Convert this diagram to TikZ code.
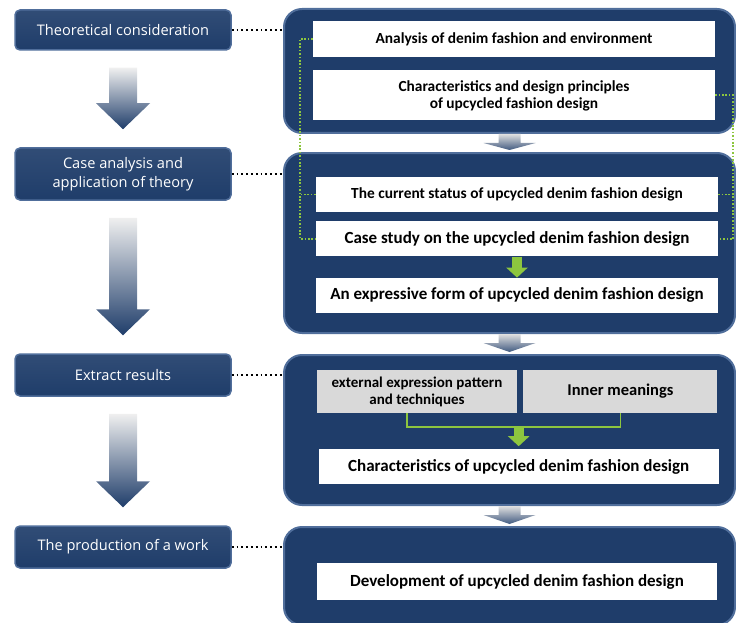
\documentclass[tikz,border=0pt]{standalone}
\usepackage{fontspec}
\setmainfont{Carlito}
\newfontfamily\stagefont{Open Sans}
\usepackage{tikz}
\usetikzlibrary{positioning, arrows.meta, calc}
\definecolor{navy}{RGB}{31,61,106}
\definecolor{bevel}{RGB}{80,110,155}
\definecolor{leaf}{RGB}{141,198,63}
\definecolor{shell}{RGB}{217,217,217}

\begin{document}
\begin{tikzpicture}[x=1pt, y=-1pt]
	% Define styles
	\tikzset{
		stage/.style={rectangle, rounded corners=5pt, draw=bevel, line width=1.5pt, top color=navy!92!white, bottom color=navy, text=white, font=\stagefont\fontsize{14.6}{18.5}\selectfont, align=center, minimum width=216pt, inner sep=0pt},
		panel/.style={rectangle, rounded corners=18pt, draw=bevel, line width=2pt, fill=navy, minimum width=451pt, inner sep=0pt},
		item/.style={rectangle, fill=white, font=\bfseries\fontsize{15.4}{17}\selectfont, align=center, minimum width=402pt, minimum height=35pt, inner sep=0pt},
		wide/.style={font=\bfseries\fontsize{17}{18}\selectfont},
		part/.style={item, fill=shell, font=\bfseries\fontsize{15}{17}\selectfont, minimum height=43pt},
		link/.style={draw, line width=1.8pt, dash pattern=on 1.8pt off 3pt},
		gdot/.style={draw=leaf, line width=1.8pt, dash pattern=on 1.6pt off 1.8pt},
		gline/.style={draw=leaf, line width=1.5pt},
		garrow/.style={draw=leaf, line width=10pt, -{Triangle[width=21pt, length=10pt]}},
		bigarrow/.style={top color=black!6, middle color=navy!62, bottom color=navy},
		gap/.style={top color=black!12, bottom color=navy!85}
	}
	\useasboundingbox (0,0) rectangle (736,623);
	
	% Nodes
	\node[stage, minimum height=40pt] (s1) at (123,30) {Theoretical consideration};
	\node[stage, minimum height=52pt] (s2) at (123,174) {Case analysis and\\application of theory};
	\node[stage, minimum height=42pt] (s3) at (123,375) {Extract results};
	\node[stage, minimum height=42pt] (s4) at (123,547) {The production of a work};
	
	\node[panel, minimum height=124pt] (p1) at (509.5,71) {};
	\node[panel, minimum height=180pt] (p2) at (509.5,243) {};
	\node[panel, minimum height=150pt] (p3) at (509.5,430) {};
	\node[panel, minimum height=98pt] (p4) at (509.5,576) {};
	
	\node[item, minimum height=36pt] (a1) at (514,39) {Analysis of denim fashion and environment};
	\node[item, minimum height=50pt, below=13pt of a1] (a2) {Characteristics and design principles\\of upcycled fashion design};
	
	\node[item] (c1) at (517,194.5) {The current status of upcycled denim fashion design};
	\node[item, wide, below=9pt of c1] (c2) {Case study on the upcycled denim fashion design};
	\node[item, wide, below=21pt of c2] (c3) {An expressive form of upcycled denim fashion design};
	
	\node[part, minimum width=200pt] (e1) at (417,391.5) {external expression pattern\\and techniques};
	\node[part, font=\bfseries\fontsize{16.5}{18}\selectfont, minimum width=194pt, right=6pt of e1] (e2) {Inner meanings};
	\node[item, wide, minimum width=400pt, below=36pt of $(e1.south)!0.5!(e2.south)$] (e3) {Characteristics of upcycled denim fashion design};
	
	\node[item, wide, minimum width=400pt, minimum height=37pt] (d1) at (517,581.5) {Development of upcycled denim fashion design};
	
	% Arrows
	\foreach \a/\b in {s1/s2, s2/s3, s3/s4}
		\shade[bigarrow] ($(\a.south)+(-14,17)$) -- ($(\a.south)+(14,17)$) -- ($(\b.north)+(14,-44)$) -- ($(\b.north)+(27,-44)$) -- ($(\b.north)+(0,-18)$) -- ($(\b.north)+(-27,-44)$) -- ($(\b.north)+(-14,-44)$) -- cycle;
	
	\foreach \a/\b in {p1/p2, p2/p3, p3/p4}
		\shade[gap] ($(\a.south)+(-11,0)$) -- ($(\a.south)+(11,0)$) -- ($(\a.south)+(11,9)$) -- ($(\a.south)+(26,9)$) -- ($(\b.north)+(0,-2)$) -- ($(\a.south)+(-26,9)$) -- ($(\a.south)+(-11,9)$) -- cycle;
	
	\foreach \s/\p in {s1/p1, s2/p2, s3/p3, s4/p4}
		\draw[link] (\s.east) -- (\s.east -| \p.west);
	
	\draw[gdot] (a1.west) -- ++(-13,0) |- (c2.west);
	\draw[gdot] (c1.west) -- ++(-16,0);
	\draw[gdot] (a2.east) -- ++(18,0) |- (c2.east);
	\draw[gdot] (c1.east) -- ++(15,0);
	
	\draw[garrow] (c2.south) -- (c3.north);
	
	\draw[gline] ($(e1.south)+(-10,0)$) -- ++(0,14) -| (e2.south);
	\draw[garrow, shorten >=3pt] ($(e1.south)!0.5!(e2.south)+(0,14)$) -- (e3.north);
\end{tikzpicture}
\end{document}
